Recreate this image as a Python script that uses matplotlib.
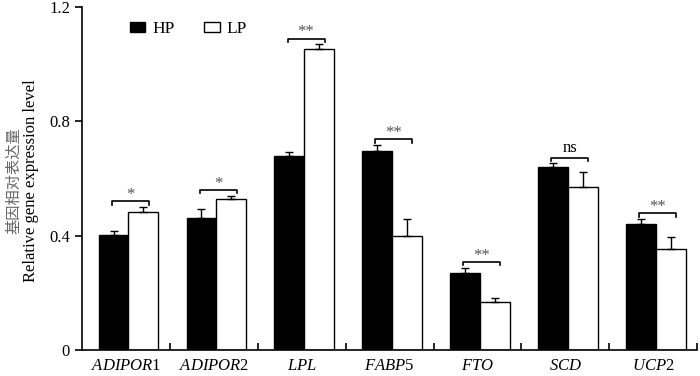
import matplotlib
matplotlib.use("Agg")
import matplotlib.pyplot as plt
import numpy as np

plt.rcParams['font.family'] = ['Liberation Serif', 'DejaVu Serif']
plt.rcParams['mathtext.fontset'] = 'custom'
plt.rcParams['mathtext.it'] = 'Liberation Serif:italic'
plt.rcParams['mathtext.rm'] = 'Liberation Serif'

genes = [r"$\mathit{ADIPOR}$1", r"$\mathit{ADIPOR}$2", r"$\mathit{LPL}$",
         r"$\mathit{FABP}$5", r"$\mathit{FTO}$", r"$\mathit{SCD}$", r"$\mathit{UCP2}$"]
hp_mean = [0.402, 0.463, 0.680, 0.697, 0.270, 0.640, 0.441]
hp_err = [0.014, 0.030, 0.013, 0.020, 0.018, 0.013, 0.017]
lp_mean = [0.483, 0.530, 1.052, 0.400, 0.168, 0.571, 0.354]
lp_err = [0.017, 0.010, 0.018, 0.058, 0.014, 0.053, 0.042]
signif = ["*", "*", "**", "**", "**", "ns", "**"]

fig = plt.figure(figsize=(7, 3.76), dpi=100)
ax = fig.add_axes([0.117, 0.069, 0.879, 0.912])

idx = np.arange(len(genes))
w = 0.34
x_hp = idx + 0.36
x_lp = idx + 0.70

ax.bar(x_hp, hp_mean, w, color='black', edgecolor='black', linewidth=1.0, label='HP', zorder=2)
ax.bar(x_lp, lp_mean, w, color='white', edgecolor='black', linewidth=1.0, label='LP', zorder=2)
ax.errorbar(x_hp, hp_mean, yerr=[np.zeros(len(genes)), hp_err], fmt='none',
            ecolor='black', elinewidth=1.0, capsize=3, capthick=1.0, zorder=3)
ax.errorbar(x_lp, lp_mean, yerr=[np.zeros(len(genes)), lp_err], fmt='none',
            ecolor='black', elinewidth=1.0, capsize=3, capthick=1.0, zorder=3)

# significance brackets
for i in range(len(genes)):
    top = max(hp_mean[i] + hp_err[i], lp_mean[i] + lp_err[i]) + 0.02
    x0 = x_hp[i] - 0.02
    x1 = x_lp[i] + 0.06
    ax.plot([x0, x0, x1, x1], [top - 0.012, top, top, top - 0.012], color='black', lw=1.2)
    if signif[i] == 'ns':
        ax.text((x0 + x1) / 2, top + 0.006, 'ns', ha='center', va='bottom', fontsize=12)
    else:
        ax.text((x0 + x1) / 2, top - 0.006, signif[i], ha='center', va='bottom',
                fontsize=12, color='#555555')

ax.set_xlim(0, 7)
ax.set_ylim(0, 1.2)
ax.set_yticks([0, 0.4, 0.8, 1.2])
ax.set_yticklabels(['0', '0.4', '0.8', '1.2'], fontsize=12)
ax.set_xticks(idx + 0.5)
ax.set_xticklabels(genes, fontsize=12)
ax.set_xticks(idx + 1, minor=True)
ax.tick_params(axis='x', which='major', length=0, pad=6)
ax.tick_params(axis='x', which='minor', direction='in', length=5, width=1.2)
ax.tick_params(axis='y', direction='out', length=5, width=1.2)

for s in ['top', 'right']:
    ax.spines[s].set_visible(False)
for s in ['left', 'bottom']:
    ax.spines[s].set_linewidth(1.2)

fig.text(0.019, 0.52, '基因相对表达量', rotation=90, ha='center', va='center',
         fontsize=11, color='#666666', family=['Noto Sans CJK SC', 'DejaVu Sans'])
fig.text(0.045, 0.52, 'Relative gene expression level', rotation=90, ha='center',
         va='center', fontsize=12)

ax.legend(loc='upper left', bbox_to_anchor=(0.052, 1.005), ncol=2, frameon=False,
          handlelength=0.9, handleheight=0.55, columnspacing=1.7, handletextpad=0.4,
          fontsize=12.5)

fig.savefig('out.png', dpi=100)
